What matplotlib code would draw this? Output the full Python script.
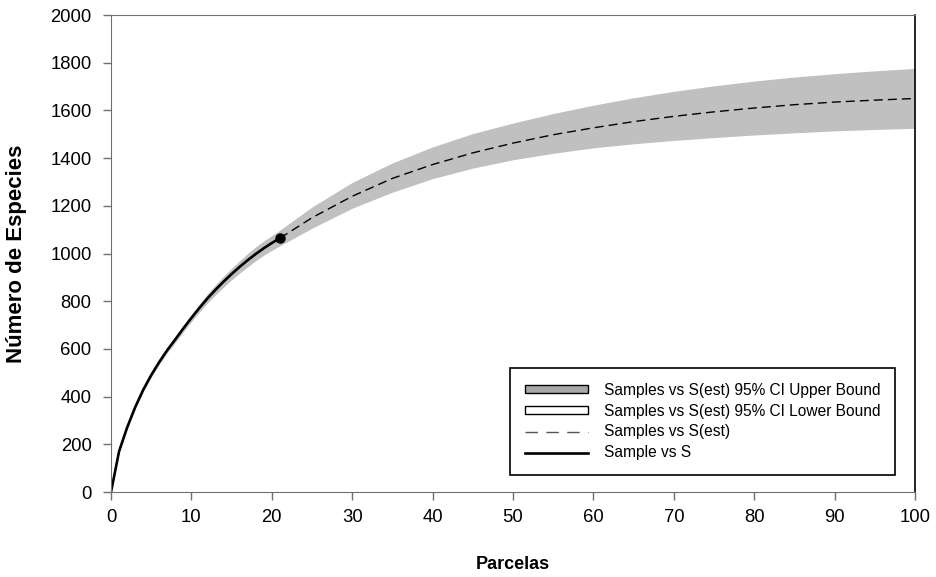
import numpy as np
import matplotlib
matplotlib.use("Agg")
import matplotlib.pyplot as plt
from matplotlib.patches import Patch
from matplotlib.lines import Line2D

plt.rcParams['font.family'] = ['Liberation Sans', 'DejaVu Sans']

# observed accumulation curve (Sample vs S)
obs_n = [0, 1, 2, 3, 4, 5, 6, 7, 8, 9, 10, 11, 12, 13, 14, 15, 16, 17, 18, 19, 20, 21]
obs_s = [0, 170, 270, 355, 428, 490, 545, 595, 640, 686, 730, 772, 812, 848, 882, 914,
         944, 972, 998, 1022, 1044, 1064]
obs_hi = [0, 172, 274, 360, 435, 498, 555, 606, 653, 700, 745, 789, 831, 869, 905, 938,
          970, 1000, 1028, 1053, 1075, 1098]
obs_lo = [0, 168, 266, 350, 421, 482, 535, 584, 627, 672, 715, 755, 793, 827, 859, 890,
          918, 944, 970, 993, 1013, 1032]

# extrapolated curve, S(est) with 95% CI
est_n = [21, 25, 30, 35, 40, 45, 50, 55, 60, 65, 70, 75, 80, 85, 90, 95, 100]
est_s = [1064, 1150, 1240, 1315, 1373, 1422, 1463, 1498, 1527, 1553, 1575, 1594, 1610,
         1624, 1635, 1643, 1650]
est_hi = [1098, 1195, 1298, 1380, 1447, 1503, 1547, 1587, 1622, 1653, 1680, 1703, 1723,
          1740, 1754, 1766, 1776]
est_lo = [1032, 1106, 1190, 1257, 1314, 1358, 1393, 1420, 1443, 1460, 1474, 1486, 1497,
          1506, 1514, 1520, 1525]

labels = ["Samples vs S(est) 95% CI Upper Bound", "Samples vs S(est) 95% CI Lower Bound",
          "Samples vs S(est)", "Sample vs S"]

fig = plt.figure(figsize=(9.36, 5.77), dpi=100)
ax = fig.add_axes([0.1186, 0.1473, 0.859, 0.8267])

band_n = obs_n + est_n[1:]
band_hi = obs_hi + est_hi[1:]
band_lo = obs_lo + est_lo[1:]
ax.fill_between(band_n, band_lo, band_hi, color="#c0c0c0", lw=0)

ax.plot(est_n, est_s, color="black", lw=1.0, dashes=(6.5, 3.6))
ax.plot(obs_n, obs_s, color="black", lw=1.9)
ax.plot(obs_n[-1], obs_s[-1], "o", color="black", ms=6.5)

ax.set_xlim(0, 100)
ax.set_ylim(0, 2000)
ax.set_xticks(np.arange(0, 101, 10))
ax.set_yticks(np.arange(0, 2001, 200))
ax.tick_params(direction="out", length=6, width=1, color="#707070",
               labelsize=13.3, pad=8)
ax.tick_params(axis="x", pad=6)
for s in ["left", "bottom", "top"]:
    ax.spines[s].set_color("#707070")
ax.spines["right"].set_color("black")
ax.spines["right"].set_linewidth(1.2)

ax.set_xlabel("Parcelas", fontsize=13, fontweight="bold")
ax.set_ylabel("Número de Especies", fontsize=16, fontweight="bold")
ax.xaxis.set_label_coords(0.5, -0.135)
ax.yaxis.set_label_coords(-0.104, 0.5)

handles = [Patch(facecolor="#a8a8a8", edgecolor="black", lw=1.0),
           Patch(facecolor="white", edgecolor="black", lw=1.0),
           Line2D([], [], color="#555555", lw=1.0, dashes=(9, 6)),
           Line2D([], [], color="black", lw=1.9)]
leg = ax.legend(handles, labels, loc="lower right", fontsize=11.2,
                handlelength=4.1, handleheight=0.33, handletextpad=1.0,
                labelspacing=0.38, borderpad=0.95, fancybox=False,
                framealpha=1, edgecolor="black", bbox_to_anchor=(0.985, 0.019))
leg.get_frame().set_linewidth(1.2)

fig.savefig("out.png", dpi=100)
